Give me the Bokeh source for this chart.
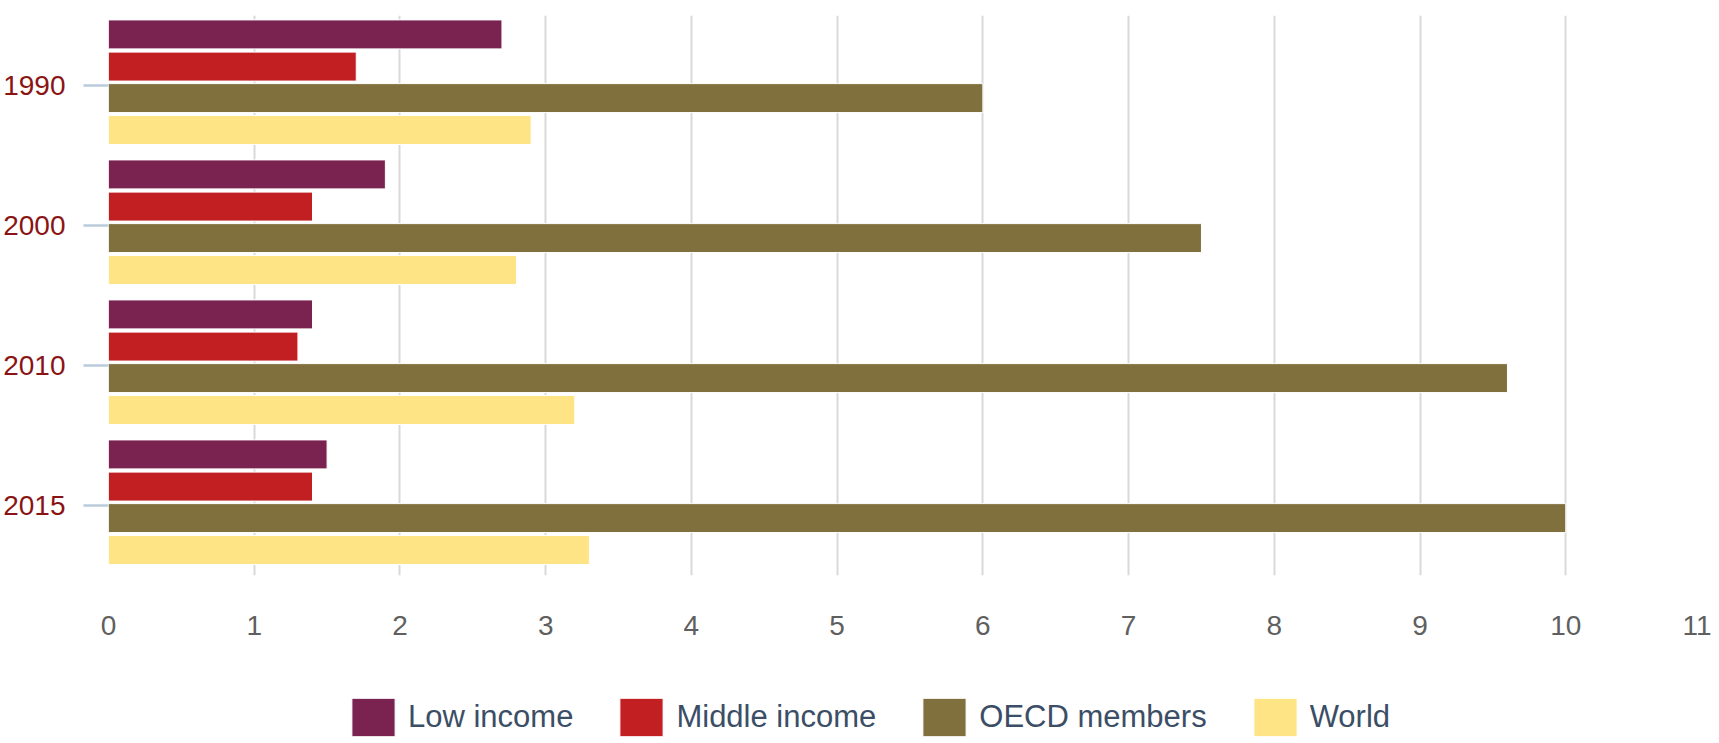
from bokeh.plotting import figure
from bokeh.models import ColumnDataSource, FactorRange, Range1d, FixedTicker, Legend, LegendItem
from bokeh.transform import dodge
from bokeh.layouts import column
from bokeh.embed import file_html
from bokeh.resources import INLINE

years = ["1990", "2000", "2010", "2015"]
series_names = ["Low income", "Middle income", "OECD members", "World"]
low_income = [2.7, 1.9, 1.4, 1.5]
middle_income = [1.7, 1.4, 1.3, 1.4]
oecd_members = [6.0, 7.5, 9.6, 10.0]
world = [2.9, 2.8, 3.2, 3.3]
x_ticks = list(range(0, 12))

colors = ["#7b2350", "#c11f22", "#80703d", "#fee484"]
offsets = [0.365, 0.135, -0.09, -0.318]
columns = ["low", "mid", "oecd", "world"]

FONT = "Liberation Sans"

src = ColumnDataSource(dict(year=years, low=low_income, mid=middle_income,
                            oecd=oecd_members, world=world))

p = figure(width=1711, height=660, output_backend="svg", toolbar_location=None,
           y_range=FactorRange(factors=list(reversed(years)), range_padding=0),
           x_range=Range1d(0, 11),
           min_border_left=108, min_border_right=0, min_border_top=15,
           min_border_bottom=85)
p.outline_line_color = None

for col, c, off in zip(columns, colors, offsets):
    p.hbar(y=dodge("year", off, range=p.y_range), right=col, left=0, height=0.207,
           source=src, fill_color=c, line_color="white", line_width=1)

# grid
p.ygrid.grid_line_color = None
p.xgrid.ticker = FixedTicker(ticks=x_ticks[1:])
p.xgrid.grid_line_color = "#d9d9d9"
p.xgrid.grid_line_width = 2

# x axis
p.xaxis.ticker = FixedTicker(ticks=x_ticks)
p.xaxis.axis_line_color = None
p.xaxis.major_tick_line_color = None
p.xaxis.minor_tick_line_color = None
p.xaxis.major_label_standoff = 34
p.xaxis.major_label_text_font = FONT
p.xaxis.major_label_text_font_size = "28px"
p.xaxis.major_label_text_color = "#5f5f5f"

# y axis
p.yaxis.axis_line_color = None
p.yaxis.major_tick_out = 25
p.yaxis.major_tick_in = 0
p.yaxis.major_tick_line_color = "#b9cbdc"
p.yaxis.major_tick_line_width = 2.5
p.yaxis.major_label_standoff = 18
p.yaxis.major_label_text_font = FONT
p.yaxis.major_label_text_font_size = "28px"
p.yaxis.major_label_text_color = "#8a1414"

# legend strip (series drawn off-range so only the legend shows)
p2 = figure(width=1711, height=81, output_backend="svg", toolbar_location=None,
            x_axis_location=None, y_axis_location=None,
            y_range=FactorRange(factors=years), x_range=Range1d(-2, -1),
            min_border_left=0, min_border_right=0, min_border_top=0, min_border_bottom=0)
p2.outline_line_color = None
p2.grid.visible = False
leg_renderers = [p2.hbar(y="year", right=col, left=0, height=0.5, source=src,
                         fill_color=c, line_color="white", line_width=1)
                 for col, c in zip(columns, colors)]

legend = Legend(items=[LegendItem(label=n, renderers=[r]) for n, r in zip(series_names, leg_renderers)],
                orientation="horizontal", location=(238, 0),
                glyph_width=54, glyph_height=48, label_standoff=8, spacing=41,
                padding=0, margin=0, border_line_alpha=0, background_fill_alpha=0,
                label_text_font=FONT, label_text_font_size="31px",
                label_text_color="#3b4e66")
p2.add_layout(legend)

layout = column(p, p2, spacing=0)
open("out.html", "w").write(file_html(layout, INLINE))
